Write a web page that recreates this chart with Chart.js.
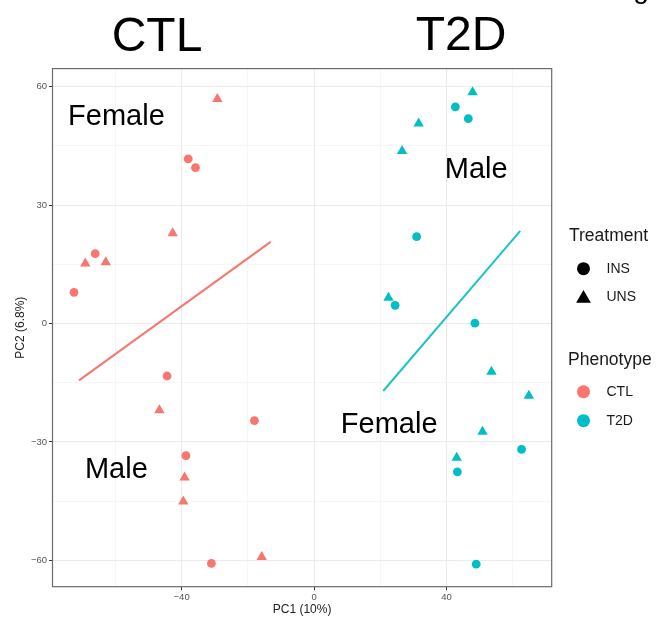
<!DOCTYPE html>
<html>
<head>
<meta charset="utf-8">
<script src="https://cdn.jsdelivr.net/npm/chart.js@4.4.1/dist/chart.umd.min.js"></script>
<style>
  html, body { margin: 0; padding: 0; background: #fff; }
  #wrap { width: 658px; height: 618px; position: relative; }
</style>
</head>
<body>
<div id="wrap"><canvas id="pcaChart"></canvas></div>
<script>
// PCA scores (PC1, PC2)
const ctlInsX = [-38.0, -35.8, -66.1, -72.5, -44.4, -18.0, -38.7, -31.0];
const ctlInsY = [41.7, 39.5, 17.7, 7.9, -13.3, -24.6, -33.5, -60.8];
const ctlUnsX = [-29.2, -42.7, -69.1, -62.9, -46.7, -39.1, -39.5, -15.8];
const ctlUnsY = [56.9, 22.9, 15.2, 15.5, -22.0, -39.0, -45.1, -59.2];
const t2dInsX = [42.7, 46.6, 31.0, 24.5, 48.6, 62.7, 43.3, 49.0];
const t2dInsY = [54.9, 51.9, 22.0, 4.6, 0.1, -31.9, -37.6, -61.0];
const t2dUnsX = [47.9, 31.6, 26.6, 22.5, 53.6, 64.9, 50.9, 43.1];
const t2dUnsY = [58.6, 50.7, 43.7, 6.5, -12.2, -18.3, -27.4, -34.0];

// separator lines drawn on the figure
const ctlLineX = [-71.0, -13.1];
const ctlLineY = [-14.4, 20.7];
const t2dLineX = [20.9, 62.3];
const t2dLineY = [-17.1, 23.5];

const xTicks = [-60, -40, -20, 0, 20, 40, 60];
const xMajor = [-40, 0, 40];
const yTicks = [-60, -45, -30, -15, 0, 15, 30, 45, 60];
const yMajor = [-60, -30, 0, 30, 60];

const colCTL = '#F8766D';
const colT2D = '#00BFC4';
const FONT = "'Liberation Sans', Arial, sans-serif";

// in-panel annotations (anchor in data units: left, baseline)
const notes = [
    { text: 'Female', x: -74.3, y: 50.3 },
    { text: 'Male', x: 39.5, y: 36.8 },
    { text: 'Male', x: -69.2, y: -39.1 },
    { text: 'Female', x: 8.1, y: -27.8 }
];

function pts(xs, ys) {
    return xs.map((x, i) => ({ x: x, y: ys[i] }));
}

function fmt(v) {
    return v < 0 ? '\u2212' + Math.abs(v) : String(v);
}

const decor = {
    id: 'decor',
    afterDatasetsDraw(chart) {
        const ctx = chart.ctx;
        const a = chart.chartArea;
        const sx = chart.scales.x, sy = chart.scales.y;
        ctx.save();

        // panel border
        ctx.strokeStyle = '#6b6b6b';
        ctx.lineWidth = 1.2;
        ctx.strokeRect(a.left, a.top, a.right - a.left, a.bottom - a.top);

        // annotations inside panel
        ctx.fillStyle = '#000';
        ctx.font = '29px ' + FONT;
        ctx.textAlign = 'left';
        ctx.textBaseline = 'alphabetic';
        notes.forEach(n => {
            ctx.fillText(n.text, sx.getPixelForValue(n.x), sy.getPixelForValue(n.y));
        });

        // group headers
        ctx.font = '48px ' + FONT;
        ctx.textAlign = 'center';
        ctx.fillText('CTL', 157, 51);
        ctx.fillText('T2D', 461, 50);
        ctx.font = '28px ' + FONT;
        ctx.fillText('g', 641, -2);

        // axis titles
        ctx.fillStyle = '#222';
        ctx.font = '12px ' + FONT;
        ctx.fillText('PC1 (10%)', (a.left + a.right) / 2, 613);
        ctx.save();
        ctx.translate(24, (a.top + a.bottom) / 2);
        ctx.rotate(-Math.PI / 2);
        ctx.fillText('PC2 (6.8%)', 0, 0);
        ctx.restore();

        // legend
        ctx.textAlign = 'left';
        ctx.fillStyle = '#1a1a1a';
        ctx.font = '17.5px ' + FONT;
        ctx.fillText('Treatment', 569, 241);
        ctx.fillText('Phenotype', 568, 365);

        ctx.font = '14px ' + FONT;
        ctx.textBaseline = 'middle';
        const kx = 583.5;
        ctx.fillStyle = '#000';
        ctx.beginPath(); ctx.arc(kx, 268.7, 6.5, 0, Math.PI * 2); ctx.fill();
        const r = 8.5, ty = 298.5;
        ctx.beginPath();
        ctx.moveTo(kx, ty - r);
        ctx.lineTo(kx + r * Math.sin(2 * Math.PI / 3), ty - r * Math.cos(2 * Math.PI / 3));
        ctx.lineTo(kx + r * Math.sin(4 * Math.PI / 3), ty - r * Math.cos(4 * Math.PI / 3));
        ctx.closePath(); ctx.fill();
        ctx.fillStyle = colCTL;
        ctx.beginPath(); ctx.arc(kx, 391.7, 6.5, 0, Math.PI * 2); ctx.fill();
        ctx.fillStyle = colT2D;
        ctx.beginPath(); ctx.arc(kx, 420.7, 6.5, 0, Math.PI * 2); ctx.fill();

        ctx.fillStyle = '#1a1a1a';
        ctx.fillText('INS', 606.5, 269.5);
        ctx.fillText('UNS', 606.5, 297.5);
        ctx.fillText('CTL', 606.5, 392.5);
        ctx.fillText('T2D', 606.5, 421.5);
        ctx.restore();
    }
};

function gridColor(majors) {
    return c => (c.tick && majors.includes(c.tick.value)) ? '#EBEBEB' : '#F4F4F4';
}
function tickColor(majors) {
    return c => (c.tick && majors.includes(c.tick.value)) ? '#333' : 'rgba(0,0,0,0)';
}

const pointStyleBase = { showLine: false, pointBorderWidth: 0 };

new Chart(document.getElementById('pcaChart'), {
    type: 'scatter',
    data: {
        datasets: [
            { label: 'CTL line', type: 'line', data: pts(ctlLineX, ctlLineY), borderColor: colCTL,
              borderWidth: 2, pointRadius: 0, showLine: true, fill: false },
            { label: 'T2D line', type: 'line', data: pts(t2dLineX, t2dLineY), borderColor: '#1DC3C7',
              borderWidth: 2, pointRadius: 0, showLine: true, fill: false },
            Object.assign({ label: 'CTL INS', data: pts(ctlInsX, ctlInsY), backgroundColor: colCTL,
              pointStyle: 'circle', pointRadius: 4.4 }, pointStyleBase),
            Object.assign({ label: 'CTL UNS', data: pts(ctlUnsX, ctlUnsY), backgroundColor: colCTL,
              pointStyle: 'triangle', pointRadius: 6 }, pointStyleBase),
            Object.assign({ label: 'T2D INS', data: pts(t2dInsX, t2dInsY), backgroundColor: colT2D,
              pointStyle: 'circle', pointRadius: 4.4 }, pointStyleBase),
            Object.assign({ label: 'T2D UNS', data: pts(t2dUnsX, t2dUnsY), backgroundColor: colT2D,
              pointStyle: 'triangle', pointRadius: 6 }, pointStyleBase)
        ]
    },
    options: {
        responsive: true,
        maintainAspectRatio: false,
        animation: false,
        devicePixelRatio: 1,
        layout: { padding: { top: 68.6, right: 106.3, left: 0, bottom: 0 } },
        plugins: {
            legend: { display: false },
            tooltip: { enabled: false }
        },
        scales: {
            x: {
                type: 'linear',
                min: -79.0,
                max: 71.8,
                afterBuildTicks: s => { s.ticks = xTicks.map(v => ({ value: v })); },
                afterFit: s => { s.height = 31.3; },
                border: { display: false },
                grid: {
                    color: gridColor(xMajor),
                    lineWidth: c => (c.tick && xMajor.includes(c.tick.value)) ? 1 : 0.8,
                    tickColor: tickColor(xMajor),
                    tickLength: 3.5,
                    tickWidth: 1
                },
                ticks: {
                    autoSkip: false,
                    maxRotation: 0,
                    padding: 1.5,
                    color: '#555',
                    font: { family: FONT, size: 9.5 },
                    callback: v => xMajor.includes(v) ? fmt(v) : ''
                }
            },
            y: {
                type: 'linear',
                min: -66.7,
                max: 64.6,
                afterBuildTicks: s => { s.ticks = yTicks.map(v => ({ value: v })); },
                afterFit: s => { s.width = 52.5; },
                border: { display: false },
                grid: {
                    color: gridColor(yMajor),
                    lineWidth: c => (c.tick && yMajor.includes(c.tick.value)) ? 1 : 0.8,
                    tickColor: tickColor(yMajor),
                    tickLength: 3.5,
                    tickWidth: 1
                },
                ticks: {
                    autoSkip: false,
                    padding: 2,
                    color: '#555',
                    font: { family: FONT, size: 9.5 },
                    callback: v => yMajor.includes(v) ? fmt(v) : ''
                }
            }
        }
    },
    plugins: [decor]
});
</script>
</body>
</html>
